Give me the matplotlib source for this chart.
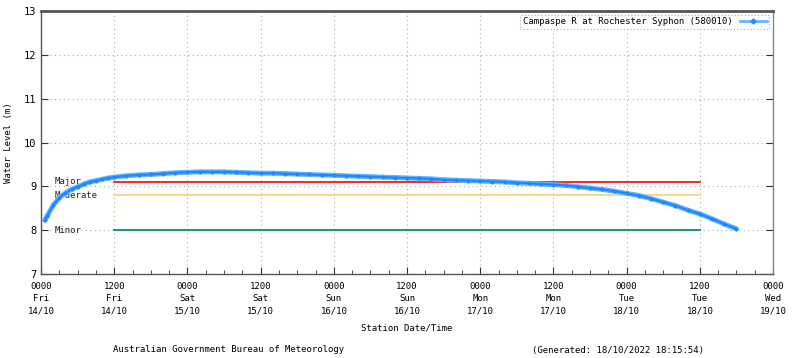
import numpy as np
import matplotlib
matplotlib.use('Agg')
import matplotlib.pyplot as plt
from matplotlib.lines import Line2D
from matplotlib.ticker import MultipleLocator

# hours since 0000 Fri 14/10, water level (m)
hours = [0.6, 1, 2, 3, 4, 5, 6, 7, 8, 9, 10, 11, 12, 14, 16, 18, 20, 22, 24, 26,
         28, 30, 32, 34, 36, 38, 40, 42, 44, 46, 48, 50, 52, 54, 56, 58, 60, 62,
         64, 66, 68, 70, 72, 74, 76, 78, 80, 82, 84, 86, 88, 90, 92, 94, 96, 98,
         100, 102, 104, 106, 108, 110, 112, 114]
level = [8.23, 8.32, 8.57, 8.74, 8.85, 8.93, 8.99, 9.05, 9.10, 9.13, 9.16, 9.19,
         9.21, 9.24, 9.26, 9.27, 9.29, 9.31, 9.32, 9.33, 9.33, 9.33, 9.32, 9.31,
         9.30, 9.30, 9.29, 9.28, 9.27, 9.26, 9.25, 9.24, 9.23, 9.22, 9.21, 9.20,
         9.19, 9.18, 9.17, 9.15, 9.14, 9.13, 9.12, 9.11, 9.10, 9.08, 9.07, 9.05,
         9.04, 9.02, 8.99, 8.96, 8.93, 8.89, 8.84, 8.79, 8.72, 8.64, 8.56, 8.46,
         8.37, 8.26, 8.14, 8.03]

# flood classification levels
flood_names = ['Major', 'Moderate', 'Minor']
flood_levels = [9.1, 8.8, 8.0]
flood_colors = ['#ff0000', '#ffcc77', '#008844']
flood_start, flood_end = 12, 108

tick_hours = list(range(0, 121, 12))
tick_labels = ['0000\nFri\n14/10', '1200\nFri\n14/10', '0000\nSat\n15/10',
               '1200\nSat\n15/10', '0000\nSun\n16/10', '1200\nSun\n16/10',
               '0000\nMon\n17/10', '1200\nMon\n17/10', '0000\nTue\n18/10',
               '1200\nTue\n18/10', '0000\nWed\n19/10']

plt.rcParams['font.family'] = ['DejaVu Sans Mono']
fs = 6.5

fig = plt.figure(figsize=(8, 3.58), dpi=100)
ax = fig.add_axes([41 / 800, 1 - 274 / 358, 732 / 800, 263 / 358])

ax.set_xlim(0, 120)
ax.set_ylim(7, 13)

ax.grid(True, which='major', color='#aaaaaa', linestyle=(0, (1, 3)), linewidth=0.8)
ax.set_axisbelow(True)

for name, lv, c in zip(flood_names, flood_levels, flood_colors):
    ax.plot([flood_start, flood_end], [lv, lv], color=c, linewidth=1.2, zorder=2)
    ax.text(2.2, lv, name, fontsize=fs, va='center', ha='left', color='#222222', zorder=3)

# gauge readings: thick light band with darker speckle on top
ax.plot(hours, level, color='#66b3ff', linewidth=3.6, zorder=4, solid_capstyle='round')
ax.plot(hours, level, color='#1e88ff', linewidth=1.6, zorder=5, solid_capstyle='round')
ax.plot(hours, level, color='#1e88ff', linewidth=0, marker='D', markersize=1.6, zorder=5)

ax.set_xticks(tick_hours)
ax.set_xticklabels(tick_labels, fontsize=fs, linespacing=1.45)
ax.xaxis.set_minor_locator(MultipleLocator(3))
ax.set_yticks(range(7, 14))
ax.tick_params(axis='y', labelsize=fs + 1, direction='in', length=5, right=True, color='#333333')
ax.tick_params(axis='x', which='major', direction='in', length=5, pad=6, color='#333333')
ax.tick_params(axis='x', which='minor', direction='in', length=3, color='#333333')

for s in ax.spines.values():
    s.set_color('#555555')
    s.set_linewidth(1.0)
ax.spines['top'].set_linewidth(2.0)
ax.spines['right'].set_color('#888888')

ax.set_ylabel('Water Level (m)', fontsize=fs, labelpad=8)
ax.set_xlabel('Station Date/Time', fontsize=fs, labelpad=6)

handle = Line2D([], [], color='#66b3ff', linewidth=2, marker='D', markersize=2.5,
                markerfacecolor='#1e88ff', markeredgecolor='#1e88ff')
leg = ax.legend([handle], ['Campaspe R at Rochester Syphon (580010)'], loc='upper right',
                fontsize=fs, markerfirst=False, handlelength=3, borderpad=0.3,
                borderaxespad=0.4, fancybox=False, framealpha=1)
leg.get_frame().set_edgecolor('#aaaaaa')
leg.get_frame().set_linestyle((0, (1, 2)))
leg.get_frame().set_linewidth(0.8)

fig.text(113 / 800, 1 - 350 / 358, 'Australian Government Bureau of Meteorology',
         fontsize=fs, va='center', ha='left')
fig.text(532 / 800, 1 - 350 / 358, '(Generated: 18/10/2022 18:15:54)',
         fontsize=fs, va='center', ha='left')

fig.savefig('out.png', dpi=100, facecolor='white')
